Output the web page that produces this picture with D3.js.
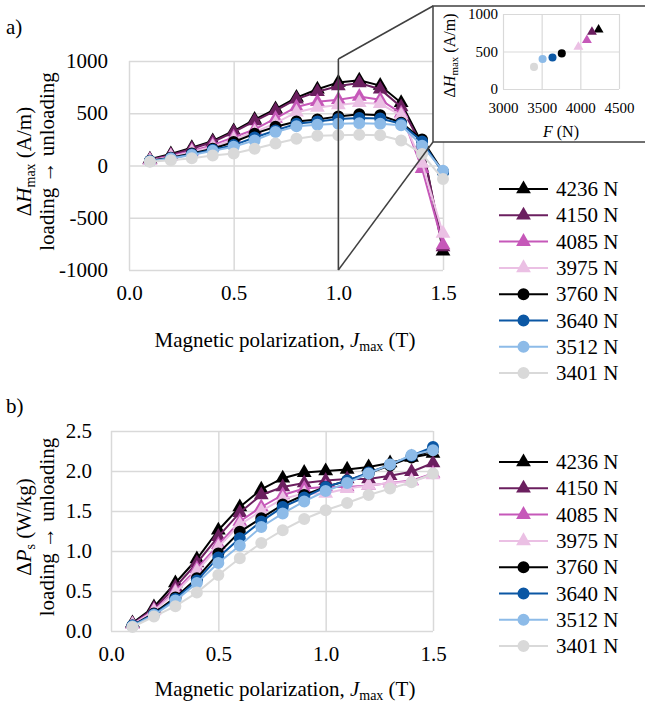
<!DOCTYPE html>
<html>
<head>
<meta charset="utf-8">
<script src="https://cdn.jsdelivr.net/npm/d3@7"></script>
<style>
  body { margin: 0; background: #fff; }
  svg, text { font-family: "Liberation Serif", Tinos, "Times New Roman", Times, "DejaVu Serif", "Noto Serif", serif; fill: #000; }
</style>
</head>
<body>
<div id="chart"></div>
<script>
// polarization steps (T)
const jmax = [0.1, 0.2, 0.3, 0.4, 0.5, 0.6, 0.7, 0.8, 0.9, 1.0, 1.1, 1.2, 1.3, 1.4, 1.5];
const forceLabels = ['4236 N', '4150 N', '4085 N', '3975 N', '3760 N', '3640 N', '3512 N', '3401 N'];
const seriesColors = ['#000000', '#6b1f5f', '#c658b9', '#ebc0e4', '#000000', '#0b57a4', '#8dbbe8', '#d9d9d9'];
const seriesShapes = ['triangle', 'triangle', 'triangle', 'triangle', 'circle', 'circle', 'circle', 'circle'];

// a) delta H max (A/m)
const dH4236 = [60, 110, 170, 235, 330, 440, 540, 650, 730, 795, 815, 765, 600, 210, -820];
const dH4150 = [55, 100, 160, 225, 320, 425, 525, 635, 705, 760, 790, 730, 560, 190, -780];
const dH4085 = [50, 90, 140, 195, 270, 345, 450, 560, 610, 630, 660, 630, 500, -30, -760];
const dH3975 = [45, 85, 130, 180, 250, 320, 405, 510, 555, 580, 600, 590, 480, 20, -650];
const dH3760 = [45, 75, 115, 160, 225, 305, 370, 420, 440, 470, 490, 480, 410, 250, -60];
const dH3640 = [42, 70, 108, 150, 195, 268, 335, 400, 420, 445, 455, 450, 400, 230, -70];
const dH3512 = [40, 68, 100, 140, 180, 240, 320, 375, 390, 400, 405, 400, 385, 190, -50];
const dH3401 = [35, 50, 70, 95, 115, 160, 210, 255, 285, 290, 295, 290, 240, 110, -130];

// b) delta Ps (W/kg)
const dP4236 = [0.10, 0.30, 0.60, 0.90, 1.26, 1.55, 1.77, 1.91, 1.98, 2.00, 2.02, 2.05, 2.10, 2.17, 2.22];
const dP4150 = [0.09, 0.28, 0.55, 0.85, 1.18, 1.48, 1.70, 1.80, 1.85, 1.88, 1.90, 1.90, 1.94, 1.99, 2.10];
const dP4085 = [0.08, 0.26, 0.50, 0.78, 1.08, 1.37, 1.55, 1.70, 1.78, 1.80, 1.80, 1.82, 1.85, 1.88, 1.97];
const dP3975 = [0.08, 0.25, 0.48, 0.75, 1.05, 1.33, 1.50, 1.65, 1.72, 1.72, 1.78, 1.82, 1.85, 1.87, 1.95];
const dP3760 = [0.07, 0.22, 0.42, 0.66, 0.97, 1.24, 1.41, 1.58, 1.70, 1.80, 1.88, 1.97, 2.07, 2.17, 2.26];
const dP3640 = [0.07, 0.21, 0.40, 0.63, 0.92, 1.16, 1.37, 1.55, 1.67, 1.80, 1.88, 1.98, 2.08, 2.19, 2.30];
const dP3512 = [0.06, 0.20, 0.38, 0.60, 0.85, 1.07, 1.30, 1.47, 1.62, 1.75, 1.85, 1.97, 2.08, 2.20, 2.26];
const dP3401 = [0.05, 0.18, 0.31, 0.48, 0.70, 0.91, 1.10, 1.26, 1.40, 1.51, 1.60, 1.70, 1.78, 1.86, 1.97];

// inset: peak delta H vs force
const insetForce = [4236, 4150, 4085, 3975, 3760, 3640, 3512, 3401];
const insetDH = [790, 760, 650, 560, 475, 420, 400, 295];

// tick values
const jTicks = [0, 0.5, 1.0, 1.5];
const hTicks = [-1000, -500, 0, 500, 1000];
const pTicks = [0, 0.5, 1.0, 1.5, 2.0, 2.5];
const insetFTicks = [3000, 3500, 4000, 4500];
const insetHTicks = [0, 500, 1000];

const dHSeries = [dH4236, dH4150, dH4085, dH3975, dH3760, dH3640, dH3512, dH3401];
const dPSeries = [dP4236, dP4150, dP4085, dP3975, dP3760, dP3640, dP3512, dP3401];

const SERIF = '"Liberation Serif", Tinos, "Times New Roman", Times, "DejaVu Serif", serif';
const FONT = 21;
const GRID = '#d9d9d9';

const svg = d3.select('#chart').append('svg')
  .attr('width', 645)
  .attr('height', 717)
  .attr('font-family', SERIF);

function marker(sel, shape, color, scale) {
  const size = shape === 'triangle' ? 95 * scale : 113 * scale;
  sel.append('path')
    .attr('d', d3.symbol().type(shape === 'triangle' ? d3.symbolTriangle : d3.symbolCircle).size(size)())
    .attr('fill', color);
}

function gridAxes(g, x, y, xTicks, yTicks, xFmt, yFmt, opts) {
  const w = x.range()[1] - x.range()[0];
  const h = y.range()[0] - y.range()[1];

  const yAxis = g.append('g')
    .attr('transform', `translate(${x.range()[0]},0)`)
    .call(d3.axisLeft(y).tickValues(yTicks).tickFormat(yFmt)
      .tickSizeInner(-w).tickSizeOuter(0).tickPadding(opts.yPad));
  const xAxis = g.append('g')
    .attr('transform', `translate(0,${y.range()[0]})`)
    .call(d3.axisBottom(x).tickValues(xTicks).tickFormat(xFmt)
      .tickSizeInner(-h).tickSizeOuter(0).tickPadding(opts.xPad));

  [xAxis, yAxis].forEach((a) => {
    a.attr('font-family', SERIF);
    a.select('.domain').remove();
    a.selectAll('line').attr('stroke', GRID).attr('stroke-width', opts.gridWidth);
    a.selectAll('text')
      .attr('font-size', opts.fontSize)
      .attr('font-family', SERIF)
      .attr('fill', '#000');
  });
}

function drawPanel(cfg) {
  const g = svg.append('g');
  const x = d3.scaleLinear().domain([0, 1.5]).range([cfg.left, cfg.right]);
  const y = d3.scaleLinear().domain(cfg.yDomain).range([cfg.bottom, cfg.top]);

  gridAxes(g, x, y, jTicks, cfg.yTicks, d3.format('.1f'), cfg.yFmt,
    { yPad: cfg.yPad, xPad: 15, gridWidth: 1.5, fontSize: FONT });

  const line = d3.line().x((d) => x(d[0])).y((d) => y(d[1]));

  cfg.series.forEach((vals, i) => {
    const pts = jmax.map((j, k) => [j, vals[k]]);
    const sg = g.append('g');
    sg.append('path')
      .attr('d', line(pts))
      .attr('fill', 'none')
      .attr('stroke', seriesColors[i])
      .attr('stroke-width', 2);
    pts.forEach((p) => {
      const mg = sg.append('g').attr('transform', `translate(${x(p[0])},${y(p[1])})`);
      marker(mg, seriesShapes[i], seriesColors[i], 1);
    });
  });

  // panel letter
  svg.append('text')
    .attr('x', 6).attr('y', cfg.letterY)
    .attr('font-size', FONT)
    .text(cfg.letter);

  // y label, two lines
  const yMid = (cfg.top + cfg.bottom) / 2 - 4;
  const yl = svg.append('text')
    .attr('transform', `translate(31,${yMid}) rotate(-90)`)
    .attr('text-anchor', 'middle')
    .attr('font-size', FONT);
  yl.append('tspan').text('Δ');
  yl.append('tspan').attr('font-style', 'italic').text(cfg.yVar);
  yl.append('tspan').attr('font-size', 14).attr('dy', 4).text(cfg.ySub);
  yl.append('tspan').attr('dy', -4).text(` (${cfg.yUnit})`);

  svg.append('text')
    .attr('transform', `translate(54,${yMid}) rotate(-90)`)
    .attr('text-anchor', 'middle')
    .attr('font-size', FONT)
    .text('loading → unloading');

  // x title
  const xt = svg.append('text')
    .attr('x', 285).attr('y', cfg.xTitleY)
    .attr('text-anchor', 'middle')
    .attr('font-size', FONT);
  xt.append('tspan').text('Magnetic polarization, ');
  xt.append('tspan').attr('font-style', 'italic').text('J');
  xt.append('tspan').attr('font-size', 14).attr('dy', 4).text('max');
  xt.append('tspan').attr('dy', -4).text(' (T)');

  // legend
  forceLabels.forEach((lab, i) => {
    const ly = cfg.legendTop + i * 26.3;
    const lg = svg.append('g').attr('transform', `translate(499,${ly})`);
    lg.append('line')
      .attr('x1', 0).attr('x2', 49)
      .attr('stroke', seriesColors[i]).attr('stroke-width', 2);
    const mg = lg.append('g').attr('transform', 'translate(24.5,0)');
    marker(mg, seriesShapes[i], seriesColors[i], 1);
    lg.append('text')
      .attr('x', 57).attr('y', 7)
      .attr('font-size', FONT)
      .text(lab);
  });

  return { x, y };
}

const panelA = drawPanel({
  left: 129, right: 443, top: 61, bottom: 270,
  yDomain: [-1000, 1000], yTicks: hTicks, yFmt: (d) => String(d), yPad: 21,
  series: dHSeries,
  letter: 'a)', letterY: 34,
  yVar: 'H', ySub: 'max', yUnit: 'A/m',
  xTitleY: 347,
  legendTop: 189,
});

drawPanel({
  left: 111, right: 433, top: 431, bottom: 631,
  yDomain: [0, 2.5], yTicks: pTicks, yFmt: d3.format('.1f'), yPad: 19,
  series: dPSeries,
  letter: 'b)', letterY: 413,
  yVar: 'P', ySub: 's', yUnit: 'W/kg',
  xTitleY: 696,
  legendTop: 462,
});

// zoom guide lines from J = 1.0 to the inset box
const boxL = 433, boxT = 6, boxB = 142;
const zx = panelA.x(1.0);
const guide = svg.append('g')
  .attr('stroke', '#404040').attr('stroke-width', 1.5).attr('fill', 'none');
guide.append('line').attr('x1', zx).attr('x2', zx).attr('y1', panelA.y(1000) - 2).attr('y2', panelA.y(-1000));
guide.append('line').attr('x1', zx).attr('y1', panelA.y(1000) - 2).attr('x2', boxL).attr('y2', boxT);
guide.append('line').attr('x1', zx).attr('y1', panelA.y(-1000)).attr('x2', boxL).attr('y2', boxB);

// inset box
svg.append('rect')
  .attr('x', boxL).attr('y', boxT)
  .attr('width', 645 - boxL + 5).attr('height', boxB - boxT)
  .attr('fill', '#fff').attr('stroke', '#404040').attr('stroke-width', 1.5);

const ix = d3.scaleLinear().domain([3000, 4500]).range([503, 619]);
const iy = d3.scaleLinear().domain([0, 1000]).range([89, 14]);
const ig = svg.append('g');
gridAxes(ig, ix, iy, insetFTicks, insetHTicks, (d) => String(d), (d) => String(d),
  { yPad: 5, xPad: 13, gridWidth: 1.2, fontSize: 15 });

insetForce.forEach((f, i) => {
  const mg = ig.append('g').attr('transform', `translate(${ix(f)},${iy(insetDH[i])})`);
  marker(mg, seriesShapes[i], seriesColors[i], 0.45);
});

const iyl = svg.append('text')
  .attr('transform', `translate(455,${(14 + 89) / 2 + 4}) rotate(-90)`)
  .attr('text-anchor', 'middle')
  .attr('font-size', 16);
iyl.append('tspan').text('Δ');
iyl.append('tspan').attr('font-style', 'italic').text('H');
iyl.append('tspan').attr('font-size', 11).attr('dy', 3).text('max');
iyl.append('tspan').attr('dy', -3).text(' (A/m)');

const ixl = svg.append('text')
  .attr('x', 561).attr('y', 137)
  .attr('text-anchor', 'middle')
  .attr('font-size', 16);
ixl.append('tspan').attr('font-style', 'italic').text('F');
ixl.append('tspan').text(' (N)');
</script>
</body>
</html>
